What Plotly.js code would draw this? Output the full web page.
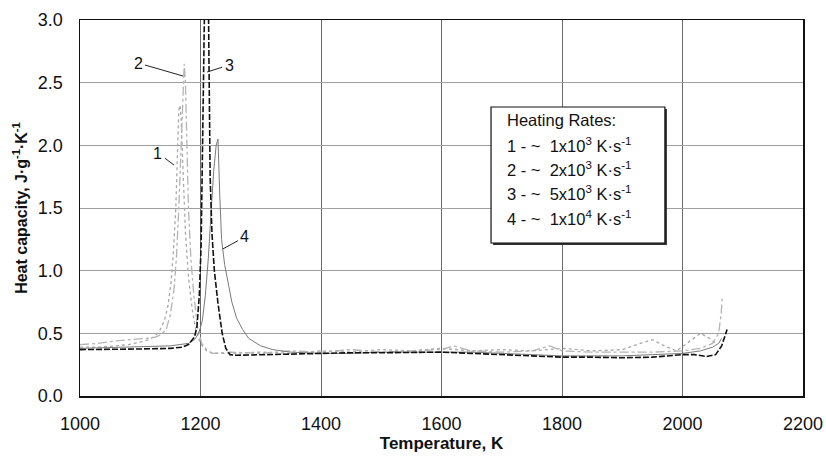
<!DOCTYPE html>
<html>
<head>
<meta charset="utf-8">
<script src="https://cdn.plot.ly/plotly-3.0.1.min.js"></script>
<style>html,body{margin:0;padding:0;background:#fff;}#chart{width:826px;height:466px;}</style>
</head>
<body>
<div id="chart"></div>
<script>
// Temperature (K) and heat capacity (J/g/K) for four heating rates
const T1 = [1000,1030,1060,1080,1100,1115,1125,1133,1140,1146,1151,1155,1159,1162,1164,1166,1168,1171,1175,1180,1186,1192,1200,1210,1220,1250,1300,1350,1400,1450,1500,1550,1600,1650,1700,1750,1800,1850,1900,1930,1950,1970,1990,2010,2030,2045,2055];
const C1 = [0.39,0.39,0.40,0.41,0.43,0.45,0.48,0.53,0.60,0.72,0.90,1.15,1.50,1.95,2.28,2.32,2.20,1.80,1.30,0.95,0.70,0.53,0.42,0.36,0.34,0.34,0.35,0.34,0.36,0.35,0.37,0.36,0.38,0.36,0.37,0.36,0.38,0.36,0.37,0.42,0.45,0.40,0.36,0.43,0.50,0.46,0.42];

const T2 = [1000,1030,1060,1090,1110,1125,1135,1143,1150,1156,1160,1164,1168,1171,1173,1175,1177,1180,1184,1189,1195,1202,1210,1220,1250,1300,1350,1400,1450,1500,1550,1600,1620,1650,1700,1750,1780,1800,1850,1900,1950,2000,2030,2050,2060,2064,2066];
const C2 = [0.41,0.42,0.44,0.45,0.46,0.47,0.49,0.53,0.65,0.85,1.10,1.50,2.00,2.45,2.65,2.50,2.00,1.50,1.10,0.80,0.55,0.42,0.37,0.34,0.35,0.34,0.36,0.35,0.37,0.35,0.36,0.37,0.40,0.36,0.35,0.36,0.40,0.36,0.35,0.35,0.35,0.36,0.38,0.42,0.50,0.65,0.79];

const T3 = [1000,1050,1100,1150,1170,1180,1186,1190,1194,1198,1201,1203,1205,1207,1213,1214,1216,1219,1223,1229,1236,1242,1249,1260,1300,1350,1400,1450,1500,1550,1600,1650,1700,1750,1800,1850,1900,1950,2000,2020,2040,2055,2065,2074];
const C3 = [0.37,0.37,0.375,0.38,0.39,0.41,0.45,0.47,0.55,0.80,1.20,1.80,2.50,3.20,3.20,2.50,1.75,1.30,1.00,0.74,0.50,0.38,0.33,0.325,0.33,0.335,0.34,0.345,0.345,0.35,0.35,0.34,0.33,0.32,0.31,0.31,0.305,0.31,0.33,0.33,0.315,0.33,0.40,0.53];

const T4 = [1000,1100,1150,1180,1190,1197,1203,1208,1213,1218,1222,1226,1229,1232,1235,1240,1245,1252,1260,1270,1280,1300,1320,1350,1400,1450,1500,1550,1600,1650,1700,1750,1800,1850,1900,1950,2000,2030,2050,2060,2065];
const C4 = [0.38,0.39,0.40,0.42,0.45,0.50,0.60,0.80,1.10,1.50,1.80,2.00,2.05,1.60,1.25,1.05,0.92,0.75,0.62,0.53,0.46,0.40,0.37,0.35,0.34,0.34,0.35,0.35,0.35,0.35,0.34,0.33,0.32,0.32,0.32,0.33,0.34,0.36,0.39,0.42,0.46];

const xTicks = [1000,1200,1400,1600,1800,2000,2200];
const yTicks = [0.0,0.5,1.0,1.5,2.0,2.5,3.0];
const seriesLabels = ["1","2","3","4"];
const legendTitle = "Heating Rates:";
const legendLines = [
  "1 - ~\u00a0\u00a01x10<sup>3</sup> K·s<sup>-1</sup>",
  "2 - ~\u00a0\u00a02x10<sup>3</sup> K·s<sup>-1</sup>",
  "3 - ~\u00a0\u00a05x10<sup>3</sup> K·s<sup>-1</sup>",
  "4 - ~\u00a0\u00a01x10<sup>4</sup> K·s<sup>-1</sup>"
];

const FONT = "Liberation Sans, Arial, Helvetica, sans-serif";

const traces = [
  {x:T1, y:C1, mode:"lines", line:{color:"#a8a8a8", width:1.3, dash:"dot"}, hoverinfo:"skip"},
  {x:T2, y:C2, mode:"lines", line:{color:"#b4b4b4", width:1.3, dash:"dashdot"}, hoverinfo:"skip"},
  {x:T4, y:C4, mode:"lines", line:{color:"#7a7a7a", width:1}, hoverinfo:"skip"},
  {x:T3, y:C3, mode:"lines", line:{color:"#111", width:1.6, dash:"6px,2px"}, hoverinfo:"skip"}
];

const legX = 0.588;
const rowY = [0.734, 0.6676, 0.6037, 0.5399, 0.4734];
const annotations = [];
annotations.push({xref:"paper", yref:"paper", x:legX, y:rowY[0], xanchor:"left", yanchor:"middle", text:legendTitle, showarrow:false, font:{family:FONT, size:16.5, color:"#111"}});
legendLines.forEach((t,i)=>{
  annotations.push({xref:"paper", yref:"paper", x:legX, y:rowY[i+1], xanchor:"left", yanchor:"middle", text:t, showarrow:false, font:{family:FONT, size:16.5, color:"#111"}});
});
const labelTips = [
  {x:1156, y:1.843, ax:-16, ay:-12},
  {x:1171, y:2.553, ax:-45, ay:-13},
  {x:1211, y:2.585, ax:22, ay:-7},
  {x:1237, y:1.173, ax:22, ay:-12}
];
labelTips.forEach((p,i)=>{
  annotations.push({x:p.x, y:p.y, ax:p.ax, ay:p.ay, axref:"pixel", ayref:"pixel", text:seriesLabels[i], showarrow:true, arrowhead:0, arrowwidth:1, arrowcolor:"#222", standoff:0, startstandoff:1, font:{family:FONT, size:16, color:"#111"}});
});

const layout = {
  width:826, height:466,
  margin:{l:80, r:23, t:20, b:70},
  paper_bgcolor:"#fff", plot_bgcolor:"#fff",
  showlegend:false,
  font:{family:FONT, color:"#111"},
  xaxis:{
    range:[1000,2200], tickvals:xTicks, ticktext:xTicks.map(String),
    showgrid:true, gridcolor:"#6a6a6a", gridwidth:1,
    showline:true, linecolor:"#111", linewidth:1.5, mirror:true,
    ticks:"", ticklabelstandoff:11, zeroline:false,
    tickfont:{family:FONT, size:18, color:"#111"},
    title:{text:"<b>Temperature, K</b>", font:{family:FONT, size:17, color:"#111"}, standoff:4}
  },
  yaxis:{
    range:[0,3], tickvals:yTicks, ticktext:yTicks.map(v=>v.toFixed(1)),
    showgrid:true, gridcolor:"#a0a0a0", gridwidth:1,
    showline:true, linecolor:"#111", linewidth:1.5, mirror:true,
    ticks:"", ticklabelstandoff:12, zeroline:false,
    tickfont:{family:FONT, size:18, color:"#111"},
    title:{text:"<b>Heat capacity, J·g<sup>-1</sup>·K<sup>-1</sup></b>", font:{family:FONT, size:16, color:"#111"}, standoff:6}
  },
  shapes:[
    {type:"rect", xref:"paper", yref:"paper", x0:0.5713, x1:0.8118, y0:0.4016, y1:0.7633, line:{width:0}, fillcolor:"#333", layer:"above"},
    {type:"rect", xref:"paper", yref:"paper", x0:0.5685, x1:0.809, y0:0.4069, y1:0.7686, line:{color:"#111", width:1.2}, fillcolor:"#fff", layer:"above"}
  ],
  annotations:annotations
};

Plotly.newPlot("chart", traces, layout, {staticPlot:true, displayModeBar:false});
</script>
</body>
</html>
